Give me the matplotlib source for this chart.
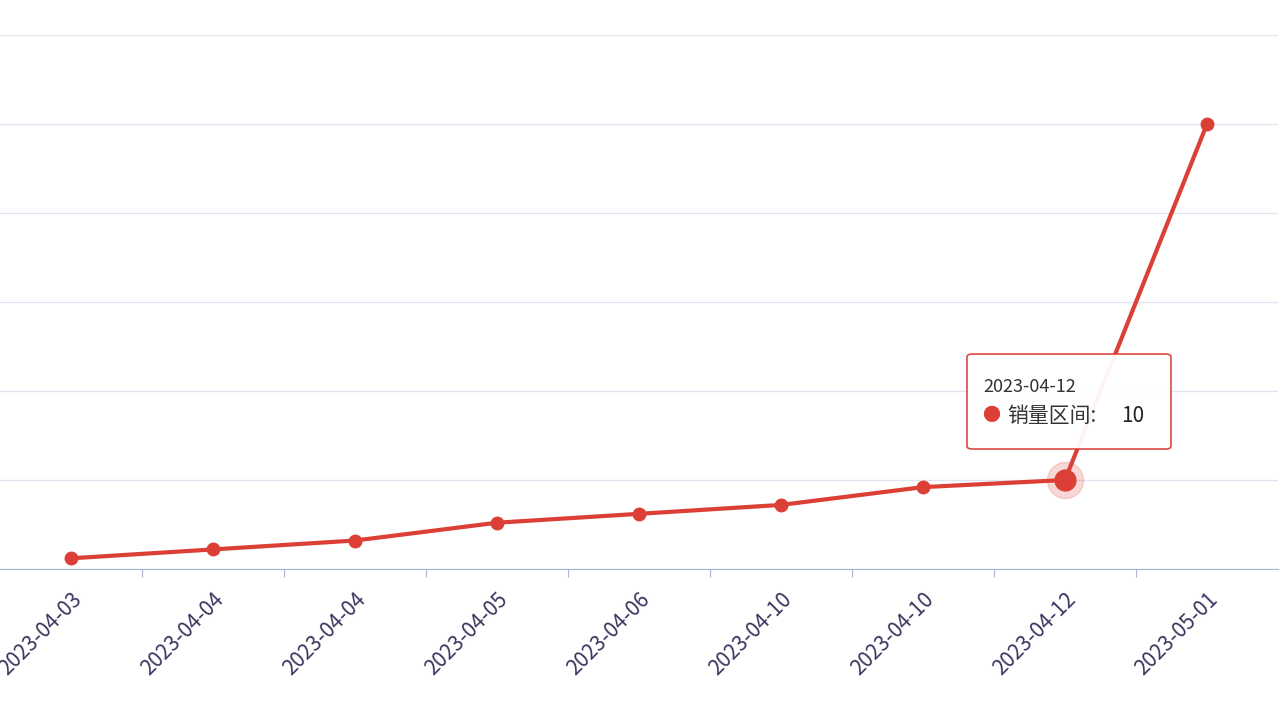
import matplotlib
matplotlib.use("Agg")
import matplotlib.pyplot as plt
from matplotlib.patches import FancyBboxPatch

plt.rcParams["font.family"] = ["Noto Sans CJK SC", "DejaVu Sans"]

dates = ["2023-04-03", "2023-04-04", "2023-04-04", "2023-04-05", "2023-04-06",
         "2023-04-10", "2023-04-10", "2023-04-12", "2023-05-01"]
sales = [1.2, 2.2, 3.2, 5.2, 6.2, 7.2, 9.2, 10, 50]
highlight = 7
series_name = "销量区间"

red = "#dc3f36"
W, H = 1280, 720
fig = plt.figure(figsize=(W / 100, H / 100), dpi=100)
ax = fig.add_axes([0, 1 - 569 / H, 1278 / W, (569 - 35) / H])
x = list(range(len(dates)))
ax.plot(x, sales, color=red, lw=3, marker="o", ms=9, zorder=3)
ax.plot(x[highlight], sales[highlight], "o", color=red, ms=26, alpha=0.2, zorder=2)
ax.plot(x[highlight], sales[highlight], "o", color=red, ms=15, zorder=4)

ax.set_xlim(-0.5, len(dates) - 0.5)
ax.set_ylim(0, 60)
ax.set_yticks(range(0, 61, 10))
ax.yaxis.grid(True, color="#e0e6f1", lw=1)
ax.tick_params(axis="y", left=False, labelleft=False)
for s in ["top", "right", "left"]:
    ax.spines[s].set_visible(False)
ax.spines["bottom"].set_color("#aab6cc")
ax.set_xticks([i + 0.5 for i in x[:-1]], minor=False)
ax.tick_params(axis="x", which="major", length=6, color="#aab6cc", labelbottom=False)
ax.set_xticks(x, minor=True)
ax.set_xticklabels(dates, minor=True, rotation=45, ha="right", rotation_mode="anchor",
                   fontsize=15, color="#3e3560")
ax.tick_params(axis="x", which="minor", length=0, pad=14)

# tooltip
bx, by, bw, bh = 967, 354, 204, 95
box = FancyBboxPatch((bx / W, 1 - (by + bh) / H), bw / W, bh / H,
                     boxstyle="round,pad=0,rounding_size=0.004", transform=fig.transFigure,
                     facecolor="white", edgecolor=red, lw=1.2, alpha=0.95, zorder=10)
fig.patches.append(box)
fig.text(983 / W, 1 - 387 / H, dates[highlight], fontsize=13, color="#333333",
         va="center", zorder=11)
fig.text(991 / W, 1 - 416 / H, "●", fontsize=13, color=red, va="center", ha="center", zorder=11)
fig.text(1007 / W, 1 - 416 / H, f"{series_name}:", fontsize=15, color="#333333",
         va="center", zorder=11)
fig.text(1121 / W, 1 - 416 / H, f"{sales[highlight]}", fontsize=15, color="#222222",
         va="center", zorder=11)

fig.savefig("out.png", dpi=100)
